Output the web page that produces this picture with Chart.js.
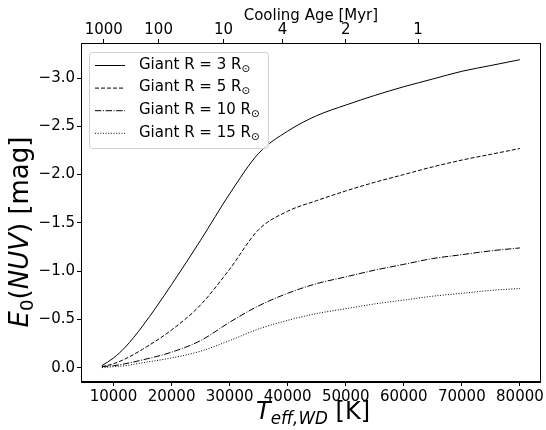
<!DOCTYPE html>
<html>
<head>
<meta charset="utf-8">
<script src="https://cdn.jsdelivr.net/npm/chart.js@4/dist/chart.umd.min.js"></script>
<style>
  html, body { margin:0; padding:0; background:#fff; }
  #wrap { width:546px; height:430px; }
</style>
</head>
<body>
<div id="wrap"><canvas id="chart" width="546" height="430"></canvas></div>
<script>
// Data
const temps = [8000,10000,12000,15000,20000,25000,30000,35000,40000,45000,50000,55000,60000,65000,70000,75000,80000];
const r3  = [-0.02,-0.10,-0.21,-0.43,-0.86,-1.32,-1.80,-2.22,-2.45,-2.61,-2.72,-2.82,-2.91,-2.99,-3.07,-3.13,-3.19];
const r5  = [-0.01,-0.04,-0.09,-0.19,-0.39,-0.65,-1.02,-1.43,-1.62,-1.73,-1.83,-1.92,-2.00,-2.08,-2.15,-2.21,-2.27];
const r10 = [-0.01,-0.02,-0.04,-0.08,-0.16,-0.28,-0.47,-0.64,-0.77,-0.87,-0.94,-1.01,-1.07,-1.13,-1.17,-1.21,-1.24];
const r15 = [0.00,-0.01,-0.02,-0.05,-0.10,-0.17,-0.28,-0.40,-0.49,-0.56,-0.61,-0.66,-0.70,-0.74,-0.77,-0.80,-0.82];
const radii = ["3","5","10","15"];
const dashes = [[], [4,2], [6.4,1.6,1,1.6], [1,1.65]];

// axis ticks
const xTicks = [10000,20000,30000,40000,50000,60000,70000,80000];
const yTicks = [-3.0,-2.5,-2.0,-1.5,-1.0,-0.5,0.0];
const agePos = [8320,17770,28950,39120,50000,62460];   // Teff where each age tick sits
const ageLabels = ["1000","100","10","4","2","1"];

const FONT = "'DejaVu Sans', sans-serif";

function pts(ys){ return temps.map((t,i)=>({x:t, y:ys[i]})); }

// draw a run of text pieces (italic / subscript) centred at (cx, cy)
function richText(ctx, parts, cx, cy, size, rot){
  ctx.save();
  ctx.translate(cx, cy);
  if (rot) ctx.rotate(rot);
  const fontOf = p => `${p.it ? "italic " : ""}${p.sub ? size*0.7 : size}px ${FONT}`;
  let w = 0;
  parts.forEach(p => { ctx.font = fontOf(p); p.w = ctx.measureText(p.t).width; w += p.w; });
  let x = -w/2;
  ctx.fillStyle = "#000"; ctx.textBaseline = "middle"; ctx.textAlign = "left";
  parts.forEach(p => {
    ctx.font = fontOf(p);
    ctx.fillText(p.t, x, p.sub ? size*0.28 : 0);
    x += p.w;
  });
  ctx.restore();
}

const decor = {
  id: "decor",
  afterDraw(chart){
    const {ctx, chartArea:a} = chart;
    ctx.save();
    // frame
    ctx.strokeStyle = "#000"; ctx.lineWidth = 1;
    ctx.strokeRect(Math.round(a.left)+0.5, Math.round(a.top)+0.5, Math.round(a.right-a.left)-1, Math.round(a.bottom-a.top)-1);

    // legend
    const lx = 89, ly = 52, lw = 179, lh = 96;
    ctx.fillStyle = "rgba(255,255,255,0.8)";
    ctx.strokeStyle = "#d0d0d0";
    ctx.beginPath(); ctx.roundRect(lx+0.5, ly+0.5, lw, lh, 3); ctx.fill(); ctx.stroke();
    radii.forEach((r,i) => {
      const y = 65 + i*22.6;
      ctx.strokeStyle = "#000"; ctx.lineWidth = 1;
      ctx.setLineDash(dashes[i]);
      ctx.beginPath(); ctx.moveTo(95, y+0.5); ctx.lineTo(125, y+0.5); ctx.stroke();
      ctx.setLineDash([]);
      ctx.fillStyle = "#000"; ctx.textBaseline = "middle"; ctx.textAlign = "left";
      ctx.font = `15px ${FONT}`;
      const s = `Giant R = ${r} R`;
      ctx.fillText(s, 139, y);
      const w = ctx.measureText(s).width;
      ctx.font = `10.5px ${FONT}`;
      ctx.fillText("\u2299", 139 + w, y + 4);
    });
    ctx.restore();

    // axis titles
    richText(ctx, [{t:"E",it:1},{t:"0",sub:1},{t:"("},{t:"NUV",it:1},{t:")"},{t:" [mag]"}], 21, 232, 26, -Math.PI/2);
    richText(ctx, [{t:"T",it:1},{t:"eff,WD",it:1,sub:1},{t:" [K]"}], 313, 413, 24, 0);
  }
};

const styles = { color:"#000", font:{family:FONT, size:15} };

new Chart(document.getElementById("chart"), {
  type: "line",
  data: {
    datasets: [r3, r5, r10, r15].map((d,i) => ({
      label: `Giant R = ${radii[i]} R\u2299`,
      data: pts(d),
      borderColor: "#000",
      borderWidth: 1,
      borderDash: dashes[i],
      pointRadius: 0,
      cubicInterpolationMode: "monotone",
      fill: false
    }))
  },
  options: {
    responsive: false,
    animation: false,
    layout: { padding: { left:0, right:3, top:0, bottom:0 } },
    plugins: { legend:{ display:false }, tooltip:{ enabled:false } },
    scales: {
      x: {
        type: "linear", position: "bottom", min: 4400, max: 83600,
        afterBuildTicks: ax => { ax.ticks = xTicks.map(v => ({value:v})); },
        afterFit: ax => { ax.height = 48; },
        ticks: { ...styles, maxRotation:0, padding:2, callback: v => String(v) },
        grid: { drawOnChartArea:false, tickLength:4, color:"#000" },
        border: { color:"#000" }
      },
      x2: {
        type: "linear", position: "top", min: 4400, max: 83600,
        afterBuildTicks: ax => { ax.ticks = agePos.map(v => ({value:v})); },
        afterFit: ax => { ax.height = 43; },
        ticks: { ...styles, maxRotation:0, padding:0, callback: (v,i) => ageLabels[i] },
        grid: { drawOnChartArea:false, tickLength:4, color:"#000" },
        border: { color:"#000" },
        title: { display:true, text:"Cooling Age [Myr]", color:"#000", font:{family:FONT, size:15}, padding:{top:7, bottom:0} }
      },
      y: {
        type: "linear", position: "left", min: -3.363, max: 0.149, reverse: true,
        afterBuildTicks: ax => { ax.ticks = yTicks.map(v => ({value:v})); },
        afterFit: ax => { ax.width = 81; },
        ticks: { ...styles, padding:2, callback: v => (v < 0 ? "\u2212" : "") + Math.abs(v).toFixed(1) },
        grid: { drawOnChartArea:false, tickLength:4, color:"#000" },
        border: { color:"#000" }
      }
    }
  },
  plugins: [decor]
});
</script>
</body>
</html>
